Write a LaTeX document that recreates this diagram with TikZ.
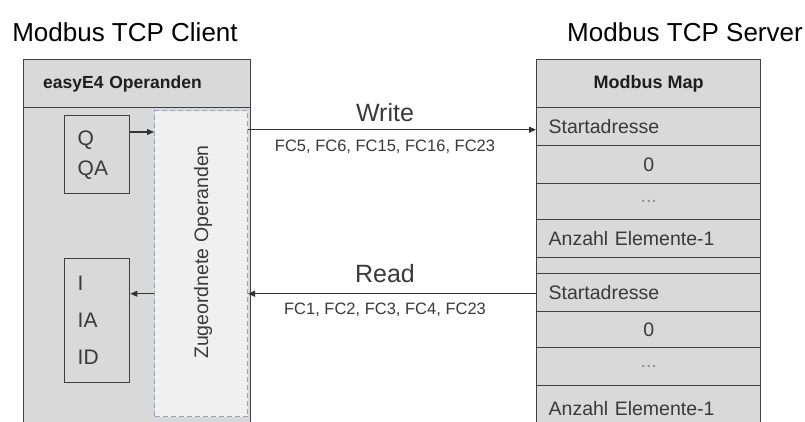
\documentclass[tikz,border=0pt]{standalone}
\usepackage{fontspec}
\setmainfont{Liberation Sans}
\usetikzlibrary{arrows.meta,calc}
\definecolor{boxfill}{HTML}{D9D9D9}
\definecolor{boxline}{HTML}{404040}
\definecolor{dashline}{HTML}{8EA6C6}
\definecolor{dashfill}{HTML}{F0F0F0}
\definecolor{txt}{HTML}{3A3A3A}
\definecolor{head}{HTML}{1E1E1E}
\definecolor{dots}{HTML}{8A8A8A}
\newcommand{\fsz}[2]{\fontsize{#1}{#2}\selectfont}
\begin{document}
\begin{tikzpicture}[x=1pt,y=-1pt,
  box/.style={draw=boxline, fill=boxfill, line width=1.4pt, rectangle, inner sep=0pt, anchor=north west},
  rowL/.style={box, minimum width=224pt, text width=200pt, inner xsep=12pt, align=left, text=txt, font=\fsz{19.5}{22}},
  rowC/.style={box, minimum width=224pt, text width=200pt, inner xsep=12pt, align=center, text=txt, font=\fsz{19.5}{22}},
  arr/.style={draw=black!80, line width=1.2pt, -{Triangle[length=7pt,width=6pt]}},
  lbl/.style={text=txt, inner sep=0pt}
]
\clip (0,0) rectangle (805,421);
\fill[white] (0,0) rectangle (805,421);

% titles
\node[inner sep=0pt] (tc) at (125,32) {\fsz{26}{30}Modbus TCP Client};
\node[inner sep=0pt] (ts) at (685,32) {\fsz{26}{30}Modbus TCP Server};

% client box
\node[box, minimum width=227pt, minimum height=380pt] (client) at (23,59) {};
\node[box, minimum width=227pt, minimum height=48pt, text width=188pt, inner xsep=19pt, align=left, text=head, font=\fsz{17.5}{20}\bfseries] (chead) at (23,59)
  {easyE4 Operanden};
\node[box, minimum width=65pt, minimum height=78pt, text width=39pt, inner xsep=13pt, align=left, text=txt, font=\fsz{21}{30}] (qbox) at (64,115) {Q\\QA};
\node[box, minimum width=65pt, minimum height=124pt, text width=39pt, inner xsep=13pt, align=left, text=txt, font=\fsz{21}{37}] (ibox) at (64,258) {I\\IA\\ID};
\node[draw=dashline, fill=dashfill, line width=1pt, dash pattern=on 5pt off 3pt, rectangle, inner sep=0pt, anchor=north west, minimum width=93pt, minimum height=306pt] (dash) at (154,110) {};
\node[rotate=90, text=txt, inner sep=0pt, font=\fsz{19.5}{22}] (zug) at (203,252) {Zugeordnete Operanden};

% server box
\node[box, minimum width=224pt, minimum height=48pt, align=center, text=head, font=\fsz{18}{20}\bfseries] (shead) at (536,59) {Modbus Map};
\node[rowL, minimum height=38pt] (r1) at (536,107) {Startadresse};
\node[rowC, minimum height=38pt] (r2) at (536,145) {0};
\node[rowC, minimum height=36pt, text=dots] (r3) at (536,183) {...};
\node[rowL, minimum height=38pt] (r4) at (536,219) {Anzahl Elemente-1};
\node[box, minimum width=224pt, minimum height=16pt] (r5) at (536,257) {};
\node[rowL, minimum height=38pt] (r6) at (536,273) {Startadresse};
\node[rowC, minimum height=36pt] (r7) at (536,311) {0};
\node[rowC, minimum height=38pt, text=dots] (r8) at (536,347) {...};
\node[rowL, minimum height=45pt] (r9) at (536,385) {Anzahl Elemente-1};

% labels
\node[lbl, font=\fsz{25}{28}] (write) at (385,113) {Write};
\node[lbl, font=\fsz{16.5}{20}] (wfc) at (385,147) {FC5, FC6, FC15, FC16, FC23};
\node[lbl, font=\fsz{25}{28}] (read) at (385,274) {Read};
\node[lbl, font=\fsz{16.5}{20}] (rfc) at (385,310) {FC1, FC2, FC3, FC4, FC23};

% connectors
\draw[arr] ([yshift=-17pt]qbox.north east) coordinate (qa) -- (dash.west |- qa);
\draw[arr] (dash.east |- r1.west) ++(0,3) coordinate (wa) -- (r1.west |- wa);
\draw[arr] ([yshift=-1pt]r6.west) coordinate (ra) -- (dash.east |- ra);
\draw[arr] (dash.west |- ra) -- (ibox.east |- ra);
\end{tikzpicture}
\end{document}
